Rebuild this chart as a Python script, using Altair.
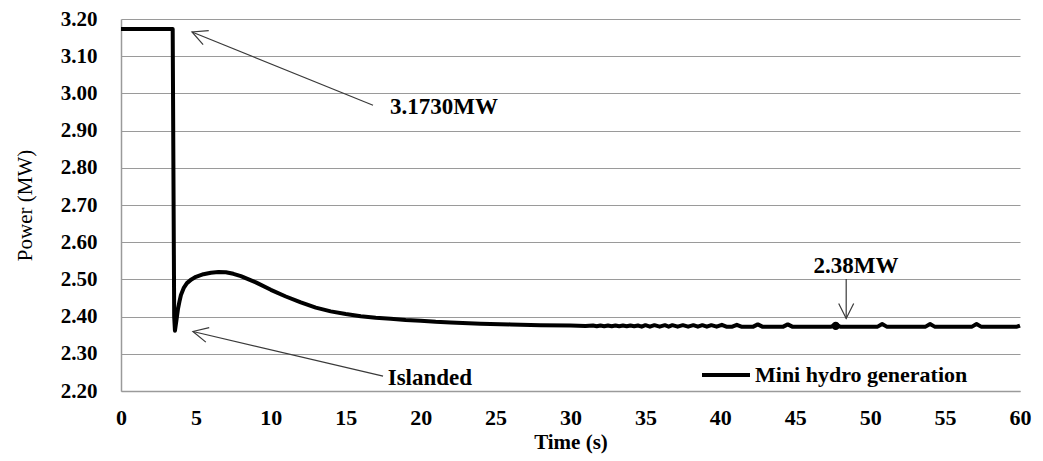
import altair as alt
import pandas as pd

# ---- data ----
time_s = [0, 3.45, 3.55, 3.6, 3.7, 3.8, 3.9, 4.0, 4.2, 4.4, 4.7, 5.0, 5.5, 6.0, 6.5, 7.0,
          7.5, 8.0, 9.0, 10.0, 11.0, 12.0, 13.0, 14.0, 15.0, 16.0, 17.0, 18.0, 19.0, 20.0,
          21.0, 22.0, 24.0, 26.0, 28.0, 30.0, 31.0,
          31.5, 31.75, 32.0, 32.25, 32.5, 32.75, 33.0, 33.25, 33.5, 33.75, 34.0, 34.25,
          34.5, 34.75, 35.0, 35.3, 35.6, 35.95, 36.3, 36.55, 36.8, 37.15, 37.5, 37.85,
          38.2, 38.5, 38.8, 39.1, 39.4, 39.75, 40.1, 40.4, 40.8, 41.1, 41.4, 42.2, 42.5,
          42.8, 44.2, 44.5, 44.8, 47.4, 47.7, 48.0, 50.5, 50.8, 51.1, 53.7, 54.0, 54.3,
          56.8, 57.1, 57.4, 59.8, 60.0]
power_mw = [3.173, 3.173, 2.40, 2.362, 2.39, 2.42, 2.44, 2.458, 2.478, 2.49, 2.50, 2.507,
            2.514, 2.518, 2.52, 2.519, 2.515, 2.509, 2.492, 2.472, 2.454, 2.438, 2.424,
            2.414, 2.407, 2.401, 2.397, 2.394, 2.391, 2.389, 2.386, 2.384, 2.381, 2.379,
            2.377, 2.376, 2.375,
            2.376, 2.374, 2.376, 2.374, 2.376, 2.374, 2.376, 2.374, 2.376, 2.374, 2.376,
            2.374, 2.376, 2.373, 2.377, 2.373, 2.377, 2.373, 2.377, 2.373, 2.377, 2.373,
            2.377, 2.373, 2.377, 2.373, 2.377, 2.373, 2.377, 2.373, 2.378, 2.373, 2.373,
            2.378, 2.373, 2.373, 2.379, 2.373, 2.373, 2.379, 2.373, 2.373, 2.378, 2.373,
            2.373, 2.380, 2.373, 2.373, 2.380, 2.373, 2.373, 2.380, 2.373, 2.373, 2.376]
series_name = "Mini hydro generation"

y_ticks = [2.2, 2.3, 2.4, 2.5, 2.6, 2.7, 2.8, 2.9, 3.0, 3.1, 3.2]
x_ticks = [0, 5, 10, 15, 20, 25, 30, 35, 40, 45, 50, 55, 60]

ann_labels = ["3.1730MW", "Islanded", "2.38MW"]
ann_t = [17.95, 17.8, 49.05]
ann_p = [2.963, 2.235, 2.536]
ann_align = ["left", "left", "center"]

arrow_t_tail = [16.82, 17.49, 48.4]
arrow_p_tail = [2.968, 2.24, 2.501]
arrow_t_tip = [4.74, 4.8, 48.4]
arrow_p_tip = [3.165, 2.36, 2.395]
arrow_angle = [202, 193, 90]

marker_t = [47.7]
marker_p = [2.375]

# ---- tables ----
df = pd.DataFrame({"t": time_s, "p": power_mw, "series": series_name})
ann = pd.DataFrame({"label": ann_labels, "t": ann_t, "p": ann_p, "align": ann_align})
arr = pd.DataFrame({"t0": arrow_t_tail, "p0": arrow_p_tail, "t1": arrow_t_tip,
                    "p1": arrow_p_tip, "ang": arrow_angle})
mk = pd.DataFrame({"t": marker_t, "p": marker_p})

FONT = "Liberation Serif"
xs = alt.Scale(domain=[0, 60], nice=False, zero=False)
ys = alt.Scale(domain=[2.2, 3.2], nice=False, zero=False)

x_axis = alt.Axis(values=x_ticks, tickCount=30, title="Time (s)", grid=False, tickSize=0,
                  labelPadding=16, labelFont=FONT, labelFontSize=22, labelFontWeight="bold",
                  labelColor="black", labelOverlap=False, labelFlush=False,
                  titleFont=FONT, titleFontSize=21,
                  titleFontWeight="bold", titleColor="black", titlePadding=3,
                  domainColor="#9a9a9a", domainWidth=1.5)
y_axis = alt.Axis(values=y_ticks, tickCount=20, format=".2f", title="Power (MW)", grid=True,
                  gridColor="#9a9a9a", gridWidth=1.2, tickSize=0, labelPadding=24,
                  labelFont=FONT, labelFontSize=21, labelFontWeight="bold",
                  labelColor="black", labelOverlap=False, labelFlush=False,
                  titleFont=FONT, titleFontSize=21,
                  titleFontWeight="normal", titleColor="black", titlePadding=25,
                  domainColor="#9a9a9a", domainWidth=1.5)

line = alt.Chart(df).mark_line(strokeWidth=4, strokeJoin="round").encode(
    x=alt.X("t:Q", scale=xs, axis=x_axis),
    y=alt.Y("p:Q", scale=ys, axis=y_axis),
    color=alt.Color("series:N", scale=alt.Scale(range=["black"]),
                    legend=alt.Legend(title=None, orient="none", legendX=579, legendY=330,
                                      symbolType="stroke", symbolStrokeWidth=4,
                                      symbolSize=2304, labelFont=FONT, labelFontSize=22,
                                      labelFontWeight="bold", labelColor="black",
                                      labelOffset=3, labelLimit=400, padding=0)),
)

marker = alt.Chart(mk).mark_circle(size=70, color="black", opacity=1).encode(
    x=alt.X("t:Q", scale=xs), y=alt.Y("p:Q", scale=ys))

shafts = alt.Chart(arr).mark_rule(color="#3a3a3a", strokeWidth=1.2).encode(
    x=alt.X("t0:Q", scale=xs), y=alt.Y("p0:Q", scale=ys), x2="t1:Q", y2="p1:Q")

heads = alt.Chart(arr).mark_point(shape="M -1 -0.5 L 0 0 L -1 0.5", filled=False,
                                  size=900, color="#3a3a3a", strokeWidth=1.2,
                                  opacity=1).encode(
    x=alt.X("t1:Q", scale=xs), y=alt.Y("p1:Q", scale=ys),
    angle=alt.Angle("ang:Q", scale=None))

text_left = alt.Chart(ann).transform_filter(alt.datum.align == "left").mark_text(
    font=FONT, fontSize=23, fontWeight="bold", color="black", baseline="middle",
    align="left").encode(x=alt.X("t:Q", scale=xs), y=alt.Y("p:Q", scale=ys), text="label:N")
text_center = alt.Chart(ann).transform_filter(alt.datum.align == "center").mark_text(
    font=FONT, fontSize=23, fontWeight="bold", color="black", baseline="middle",
    align="center").encode(x=alt.X("t:Q", scale=xs), y=alt.Y("p:Q", scale=ys), text="label:N")

chart = alt.layer(line, marker, shafts, heads, text_left, text_center).properties(
    width=899, height=372,
    autosize=alt.AutoSizeParams(type="none"),
    padding={"left": 113, "top": 11, "right": 15, "bottom": 70},
    background="white",
).configure_view(stroke=None)

chart.save("out.html", embed_options={"renderer": "svg", "actions": False})
